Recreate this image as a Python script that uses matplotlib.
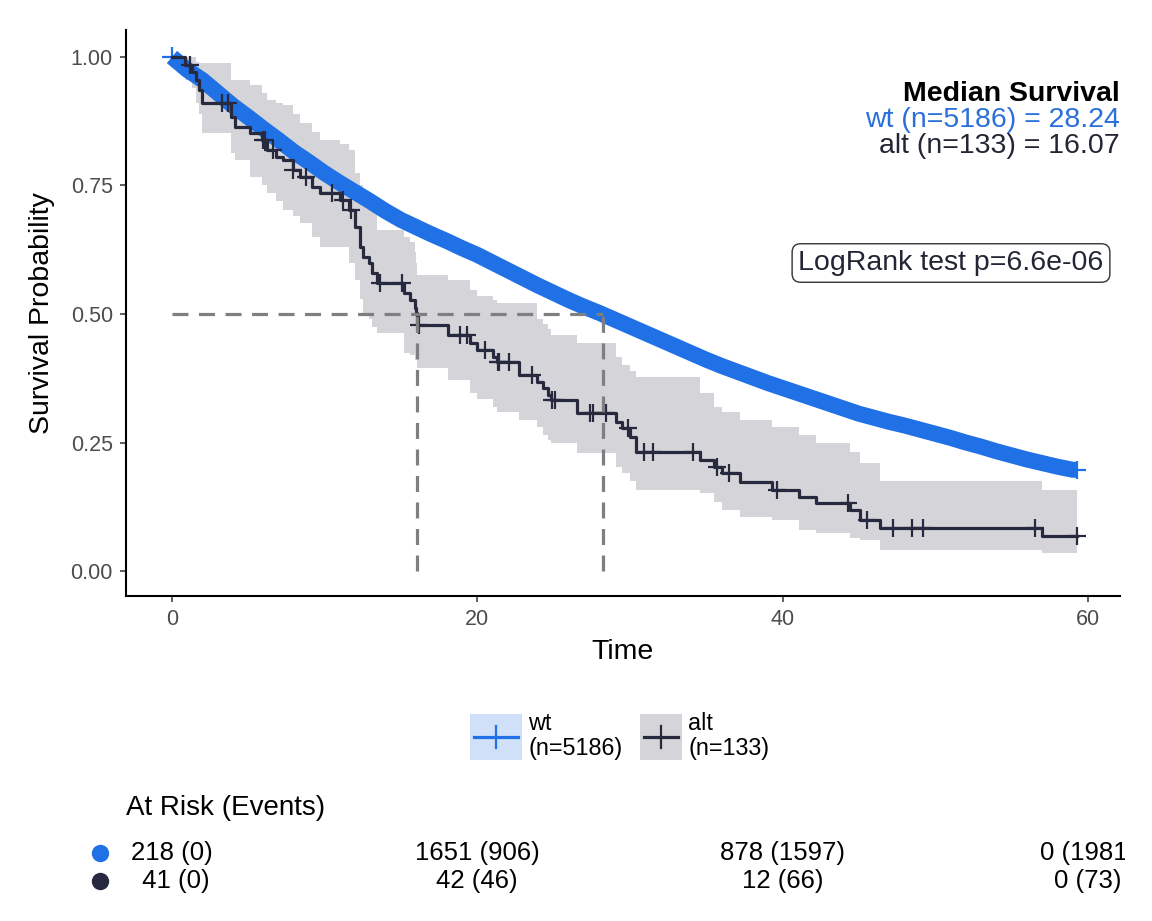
import matplotlib
matplotlib.use('Agg')
import matplotlib.pyplot as plt
import numpy as np
from matplotlib.patches import Rectangle
from matplotlib.lines import Line2D

plt.rcParams['font.family'] = ['Liberation Sans', 'DejaVu Sans']

# ---------------- data ----------------
wt_time = [0, 1, 2, 3, 4, 5, 6, 7, 8, 9, 10, 11, 12, 13, 14, 15, 16, 17, 18, 19,
           20, 21, 22, 23, 24, 25, 26, 27, 28, 29, 30, 31, 32, 33, 34, 35, 36, 37, 38, 39,
           40, 41, 42, 43, 44, 45, 46, 47, 48, 49, 50, 51, 52, 53, 54, 55, 56, 57, 58, 59]
wt_surv = [1.0, 0.975, 0.955, 0.93, 0.905, 0.883, 0.86, 0.838, 0.815, 0.795,
           0.774, 0.755, 0.737, 0.719, 0.70, 0.683, 0.669, 0.655, 0.642, 0.628,
           0.615, 0.60, 0.585, 0.57, 0.555, 0.541, 0.527, 0.514, 0.502, 0.489,
           0.476, 0.463, 0.45, 0.437, 0.424, 0.411, 0.399, 0.388, 0.377, 0.366,
           0.356, 0.346, 0.336, 0.326, 0.316, 0.306, 0.298, 0.29, 0.283, 0.275,
           0.267, 0.259, 0.25, 0.242, 0.233, 0.225, 0.217, 0.21, 0.203, 0.197]
wt_end = 59.3

alt_time = [0, 0.85, 1.3, 1.6, 1.8, 2.0, 3.9, 4.1, 5.1, 5.9, 6.2, 6.8, 7.3, 7.9, 8.4,
            9.2, 9.7, 11.0, 11.6, 12.0, 12.3, 12.5, 12.9, 13.1, 13.4, 15.2, 15.6, 15.9,
            16.0, 16.07, 18.1, 19.5, 20.0, 21.0, 21.3, 22.7, 23.9, 24.3, 24.6, 24.8,
            26.5, 29.1, 29.5, 30.0, 30.4, 34.6, 35.5, 36.0, 37.2, 39.3, 41.1, 42.2,
            44.4, 45.1, 46.4, 57.0]
alt_surv = [1.0, 0.985, 0.97, 0.955, 0.936, 0.91, 0.883, 0.864, 0.852, 0.838, 0.819,
            0.805, 0.80, 0.78, 0.767, 0.747, 0.735, 0.722, 0.702, 0.669, 0.63, 0.611,
            0.599, 0.58, 0.56, 0.54, 0.527, 0.512, 0.502, 0.479, 0.459, 0.443, 0.43,
            0.417, 0.407, 0.381, 0.368, 0.356, 0.342, 0.333, 0.307, 0.29, 0.278, 0.261,
            0.232, 0.216, 0.203, 0.19, 0.173, 0.158, 0.144, 0.132, 0.119, 0.099, 0.084,
            0.068]
alt_upper = [1.0, 1.0, 1.0, 0.99, 0.988, 0.988, 0.955, 0.955, 0.945, 0.93, 0.916,
             0.91, 0.906, 0.89, 0.872, 0.855, 0.839, 0.83, 0.819, 0.774, 0.75, 0.74,
             0.728, 0.70, 0.663, 0.65, 0.64, 0.62, 0.60, 0.575, 0.566, 0.547, 0.535,
             0.527, 0.521, 0.521, 0.49, 0.48, 0.47, 0.46, 0.444, 0.416, 0.40, 0.39,
             0.377, 0.346, 0.319, 0.31, 0.294, 0.28, 0.265, 0.249, 0.232, 0.21, 0.175,
             0.158]
alt_lower = [1.0, 0.955, 0.94, 0.91, 0.89, 0.852, 0.813, 0.80, 0.767, 0.75, 0.735,
             0.72, 0.702, 0.69, 0.677, 0.65, 0.63, 0.63, 0.60, 0.566, 0.53, 0.502,
             0.49, 0.475, 0.463, 0.424, 0.42, 0.41, 0.41, 0.395, 0.372, 0.346, 0.335,
             0.319, 0.31, 0.294, 0.28, 0.265, 0.255, 0.249, 0.23, 0.202, 0.19, 0.175,
             0.158, 0.152, 0.135, 0.119, 0.105, 0.099, 0.08, 0.074, 0.065, 0.06, 0.041,
             0.035]
alt_end = 59.3
alt_censor = [1.2, 3.3, 3.7, 5.95, 6.1, 6.6, 7.9, 8.8, 10.5, 11.2, 11.7, 13.6, 15.1,
              16.2, 18.9, 19.3, 20.5, 21.35, 21.45, 22.1, 23.6, 24.9, 25.1, 27.4, 27.6,
              28.4, 29.9, 30.9, 31.5, 34.1, 35.7, 36.5, 39.6, 44.3, 45.5, 47.2, 48.5,
              49.2, 56.5, 59.3]

medians = [28.24, 16.07]
groups = ['wt', 'alt']
group_n = [5186, 133]
pval_text = 'LogRank test p=6.6e-06'

risk_times = [0, 20, 40, 60]
risk_wt = ['218 (0)', '1651 (906)', '878 (1597)', '0 (1981)']
risk_alt = [' 41 (0)', '42 (46)', '12 (66)', '0 (73)']

x_ticks = [0, 20, 40, 60]
y_ticks = [0.0, 0.25, 0.5, 0.75, 1.0]

WT = '#2070e6'
ALT = '#272a3e'
ALT_BAND = '#d4d4d9'
WT_BAND = '#cfe0f8'

# ---------------- helpers ----------------
W, H = 1152, 921
def fx(px):
    return px / W
def fy(py):
    return 1 - py / H

fig = plt.figure(figsize=(11.52, 9.21), dpi=100)
ax = fig.add_axes([fx(126), fy(596), fx(1120) - fx(126), fy(30) - fy(596)])
ax.set_xlim(-3.01, 62.1)
ax.set_ylim(-0.0486, 1.0525)

# alt confidence band
at = list(alt_time) + [alt_end]
ax.fill_between(at, list(alt_lower) + [alt_lower[-1]], list(alt_upper) + [alt_upper[-1]],
                step='post', color=ALT_BAND, lw=0, zorder=1)

# wt curve (thousands of tiny steps + dense censor marks -> thick band)
wtt = list(wt_time) + [wt_end]
wts = list(wt_surv) + [wt_surv[-1]]
ax.plot(wtt, wts, color=WT, lw=11.5, zorder=2, solid_capstyle='butt',
        solid_joinstyle='round')
ax.plot([wt_time[0]], [wt_surv[0]], marker='+', ms=14, mew=1.6, color=WT, zorder=2)
ax.plot([wt_end], [wt_surv[-1]], marker='+', ms=13, mew=1.6, color=WT, zorder=2)

# alt curve
ax.step(at, list(alt_surv) + [alt_surv[-1]], where='post', color=ALT, lw=2.3, zorder=3)
idx = np.searchsorted(alt_time, alt_censor, side='right') - 1
ax.plot(alt_censor, np.array(alt_surv)[idx], ls='none', marker='+', ms=13, mew=1.6,
        color=ALT, zorder=3)

# median lines
dash = (0, (5, 3.3))
ax.plot([0, max(medians)], [0.5, 0.5], color='#7f7f7f', lw=2.3, ls=dash, zorder=4)
for m in medians:
    ax.plot([m, m], [0, 0.5], color='#7f7f7f', lw=2.3, ls=dash, zorder=4)

# axes style
for s in ['top', 'right']:
    ax.spines[s].set_visible(False)
for s in ['left', 'bottom']:
    ax.spines[s].set_linewidth(1.5)
ax.set_xticks(x_ticks)
ax.set_yticks(y_ticks)
ax.set_yticklabels([f'{v:.2f}' for v in y_ticks])
ax.tick_params(axis='both', direction='out', length=4.5, width=1.1, color='#333333',
               labelsize=15.5, labelcolor='#4d4d4d', pad=5)

fig.text(fx(623), fy(652), 'Time', ha='center', va='center', fontsize=20.5)
fig.text(fx(42), fy(313), 'Survival Probability', ha='center', va='center',
         rotation=90, fontsize=20.5)

# median survival text
fig.text(fx(1120), fy(94), 'Median Survival', ha='right', va='center', fontsize=20.5,
         fontweight='bold', color='black')
fig.text(fx(1120), fy(120), f'{groups[0]} (n={group_n[0]}) = {medians[0]:.2f}',
         ha='right', va='center', fontsize=20.5, color='#2b6fdb')
fig.text(fx(1120), fy(146), f'{groups[1]} (n={group_n[1]}) = {medians[1]:.2f}',
         ha='right', va='center', fontsize=20.5, color='#222533')

fig.text(fx(951), fy(263), pval_text, ha='center', va='center', fontsize=20.5,
         color='#222533',
         bbox=dict(boxstyle='round,pad=0.22,rounding_size=0.3', fc='white',
                   ec='#333333', lw=1.0))

# legend (manual)
def legend_item(x0, x1, band, color, label, n):
    fig.add_artist(Rectangle((fx(x0), fy(760)), fx(x1) - fx(x0), fy(714) - fy(760),
                             transform=fig.transFigure, fc=band, ec='none'))
    fig.add_artist(Line2D([fx(x0 + 4), fx(x1 - 4)], [fy(737), fy(737)],
                          transform=fig.transFigure, color=color, lw=2.3))
    xc = (x0 + x1) / 2
    fig.add_artist(Line2D([fx(xc), fx(xc)], [fy(726), fy(748)],
                          transform=fig.transFigure, color=color, lw=1.6))
    fig.text(fx(x1 + 6), fy(723), label, ha='left', va='center', fontsize=16.8)
    fig.text(fx(x1 + 6), fy(748), f'(n={n})', ha='left', va='center', fontsize=16.8)

legend_item(470, 522, WT_BAND, WT, groups[0], group_n[0])
legend_item(640, 682, ALT_BAND, ALT, groups[1], group_n[1])

# risk table
fig.text(fx(126), fy(808), 'At Risk (Events)', ha='left', va='center', fontsize=20)
tax = fig.add_axes([fx(126), fy(900), fx(1125) - fx(126), fy(835) - fy(900)])
tax.set_xlim(-3.01, (1125 - 172) / 15.267)
tax.set_ylim(0, 1)
tax.axis('off')
row_y = [(900 - 853) / 65, (900 - 881) / 65]
for labels, yy, col in [(risk_wt, row_y[0], WT), (risk_alt, row_y[1], ALT)]:
    for t, lab in zip(risk_times, labels):
        tax.text(t, yy, lab, ha='center', va='center', fontsize=18.5, color='black',
                 clip_on=True)
    tax.plot([(100 - 172) / 15.267], [yy], marker='o', ms=11.5, color=col,
             clip_on=False)

fig.savefig('out.png', dpi=100)
